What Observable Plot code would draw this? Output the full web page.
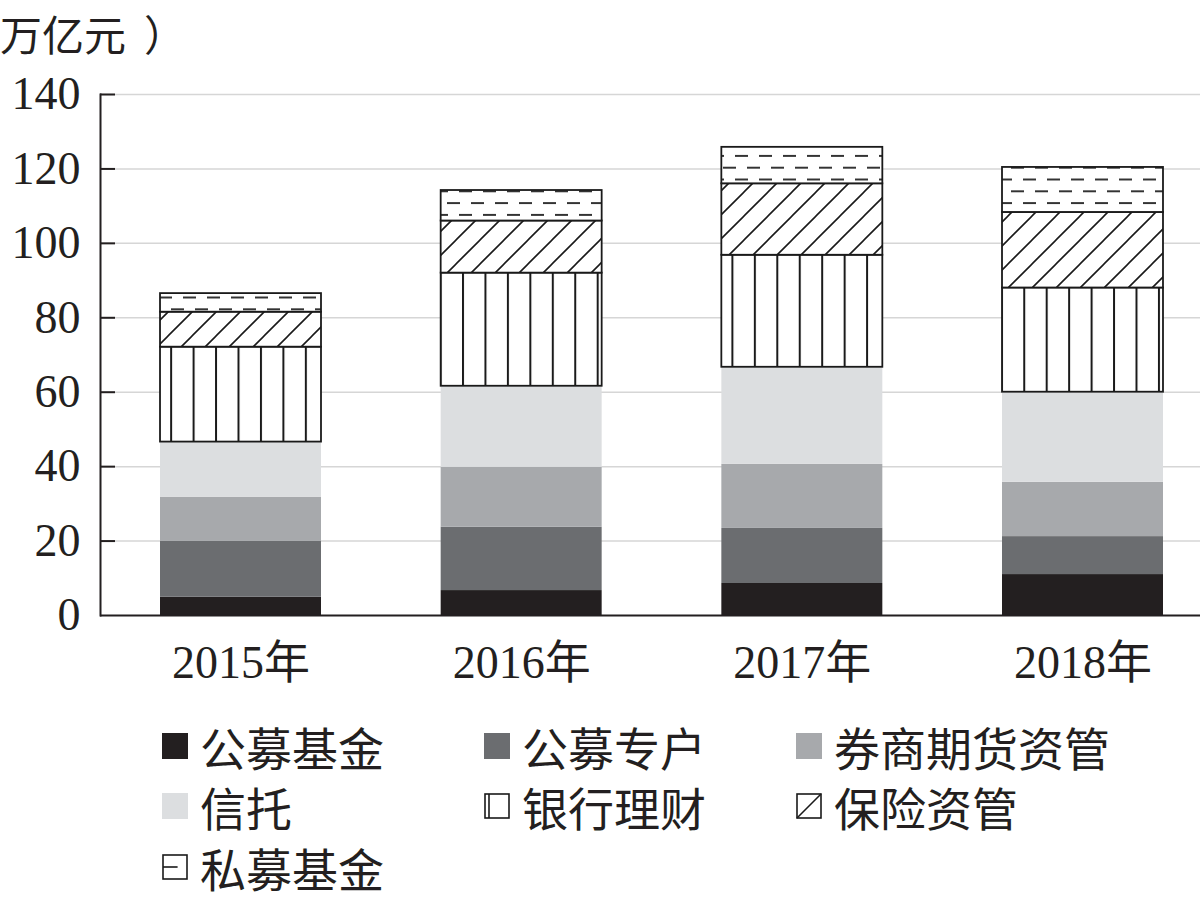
<!DOCTYPE html>
<html>
<head>
<meta charset="utf-8">
<script src="https://cdn.jsdelivr.net/npm/d3@7"></script>
<script src="https://cdn.jsdelivr.net/npm/@observablehq/plot@0.6"></script>
<style>
  html, body { margin: 0; padding: 0; background: #fff; }
  body { width: 1200px; height: 900px; overflow: hidden; position: relative;
         font-family: "Liberation Serif", "Noto Sans CJK SC", serif; color: #231f20; }
  #unit { position: absolute; left: 0px; top: 6px; font-size: 42px; line-height: 54px;
          white-space: nowrap; font-family: "Noto Sans CJK SC", sans-serif; color: #231f20; }
  #chart { position: absolute; left: 0; top: 0; }
  .leg { position: absolute; display: flex; align-items: center; white-space: nowrap;
         font-size: 46px; line-height: 56px; font-family: "Noto Sans CJK SC", sans-serif; color: #231f20; }
  .leg svg { margin-right: 12px; flex: none; }
</style>
</head>
<body>
<div id="unit">万亿元<span style="margin-left:18px">）</span></div>
<div id="chart"></div>
<div id="legend"></div>
<script>
// ---------------- data ----------------
const years = ["2015年", "2016年", "2017年", "2018年"];
const categories = ["公募基金", "公募专户", "券商期货资管", "信托", "银行理财", "保险资管", "私募基金"];
const gongmuJijin   = [4.9, 6.7, 8.6, 11.0];
const gongmuZhuanhu = [15.0, 17.0, 14.8, 10.2];
const quanshangQihuo = [11.9, 16.1, 17.2, 14.6];
const xintuo        = [14.8, 21.8, 26.1, 24.2];
const yinhangLicai  = [25.5, 30.4, 30.1, 28.0];
const baoxianZiguan = [9.4, 14.0, 19.2, 20.3];
const simuJijin     = [5.0, 8.2, 9.8, 12.1];
const yTicks = [0, 20, 40, 60, 80, 100, 120, 140];

// ---------------- styles ----------------
const series = [gongmuJijin, gongmuZhuanhu, quanshangQihuo, xintuo, yinhangLicai, baoxianZiguan, simuJijin];
const fills = ["#231f20", "#6b6d70", "#a7a9ac", "#dcdee0", "url(#pat-bank)", "url(#pat-ins)", "url(#pat-pe)"];
const patterned = new Set(["银行理财", "保险资管", "私募基金"]);

const rows = categories.flatMap((c, i) =>
  years.map((y, j) => ({ year: y, cat: c, value: series[i][j] })));

const plot = Plot.plot({
  width: 1200,
  height: 700,
  marginTop: 94,
  marginBottom: 85,
  marginLeft: 100,
  marginRight: 0,
  style: { fontFamily: '"Liberation Serif", "Noto Sans CJK SC", serif', fontSize: "46px",
           color: "#231f20", background: "transparent", overflow: "visible" },
  x: { domain: years, range: [100, 1223], paddingInner: 0.4264, paddingOuter: 0.2138,
       align: 0.5, round: false, label: null },
  y: { domain: [0, 140], label: null },
  color: { domain: categories, range: fills },
  marks: [
    Plot.ruleY(yTicks.slice(1), { stroke: "#d6d6d6", strokeWidth: 1.5 }),
    Plot.barY(rows, {
      x: "year", y: "value", z: "cat", fill: "cat",
      stroke: "#1a1a1a",
      strokeWidth: d => patterned.has(d.cat) ? 1.8 : 0
    }),
    Plot.ruleY([0], { stroke: "#231f20", strokeWidth: 2 }),
    Plot.frame({ anchor: "left", stroke: "#231f20", strokeWidth: 2 }),
    Plot.tickY(yTicks.slice(1), { stroke: "#231f20", strokeWidth: 2, insetRight: 1200 - 115 }),
    Plot.axisY({ ticks: yTicks, tickSize: 0, tickPadding: 20, fontSize: 46,
                 tickFormat: d => String(d), label: null }),
    Plot.axisX({ tickSize: 0, tickPadding: 30, fontSize: 46, label: null })
  ]
});

// patterns
const svg = d3.select(plot);
const defs = svg.insert("defs", ":first-child");

const bank = defs.append("pattern").attr("id", "pat-bank")
  .attr("patternUnits", "userSpaceOnUse").attr("x", 13).attr("y", 0)
  .attr("width", 22.45).attr("height", 20);
bank.append("rect").attr("width", 22.45).attr("height", 20).attr("fill", "#fff");
bank.append("line").attr("x1", 1).attr("x2", 1).attr("y1", -1).attr("y2", 21)
  .attr("stroke", "#1a1a1a").attr("stroke-width", 2);

const ins = defs.append("pattern").attr("id", "pat-ins")
  .attr("patternUnits", "userSpaceOnUse").attr("x", 0).attr("y", 0)
  .attr("width", 24).attr("height", 24);
ins.append("rect").attr("width", 24).attr("height", 24).attr("fill", "#fff");
ins.append("path").attr("d", "M-6,6 L6,-6 M0,24 L24,0 M18,30 L30,18")
  .attr("stroke", "#1a1a1a").attr("stroke-width", 1.6).attr("fill", "none");

const pe = defs.append("pattern").attr("id", "pat-pe")
  .attr("patternUnits", "userSpaceOnUse").attr("x", 3).attr("y", 2.5)
  .attr("width", 24).attr("height", 23.6);
pe.append("rect").attr("width", 24).attr("height", 23.6).attr("fill", "#fff");
pe.append("path").attr("d", "M0,0 L13,0 M12,11.8 L25,11.8 M-1,11.8 L1,11.8 M0,23.6 L13,23.6")
  .attr("stroke", "#333").attr("stroke-width", 2).attr("fill", "none");

document.getElementById("chart").appendChild(plot);

// ---------------- legend ----------------
const swatch = (i) => {
  const s = 26;
  if (i < 4) return `<svg width="${s}" height="${s}"><rect x="0" y="0" width="${s}" height="${s}" fill="${fills[i]}"/></svg>`;
  const box = `<rect x="1" y="1" width="${s - 2}" height="${s - 2}" fill="#fff" stroke="#1a1a1a" stroke-width="1.6"/>`;
  if (i === 4) return `<svg width="${s}" height="${s}">${box}<line x1="5" x2="5" y1="1" y2="${s - 1}" stroke="#1a1a1a" stroke-width="1.6"/></svg>`;
  if (i === 5) return `<svg width="${s}" height="${s}">${box}<line x1="1" y1="${s - 1}" x2="${s - 1}" y2="1" stroke="#1a1a1a" stroke-width="1.6"/></svg>`;
  return `<svg width="${s}" height="${s}">${box}<line x1="1" x2="${s * 0.6}" y1="${s / 2}" y2="${s / 2}" stroke="#1a1a1a" stroke-width="1.6"/></svg>`;
};
const legCols = [162, 484, 796];
const legRows = [746, 806, 867];
const legend = document.getElementById("legend");
categories.forEach((c, i) => {
  const d = document.createElement("div");
  d.className = "leg";
  d.style.left = legCols[i % 3] + "px";
  d.style.top = (legRows[Math.floor(i / 3)] - 28) + "px";
  d.innerHTML = swatch(i) + `<span>${c}</span>`;
  legend.appendChild(d);
});
</script>
</body>
</html>
